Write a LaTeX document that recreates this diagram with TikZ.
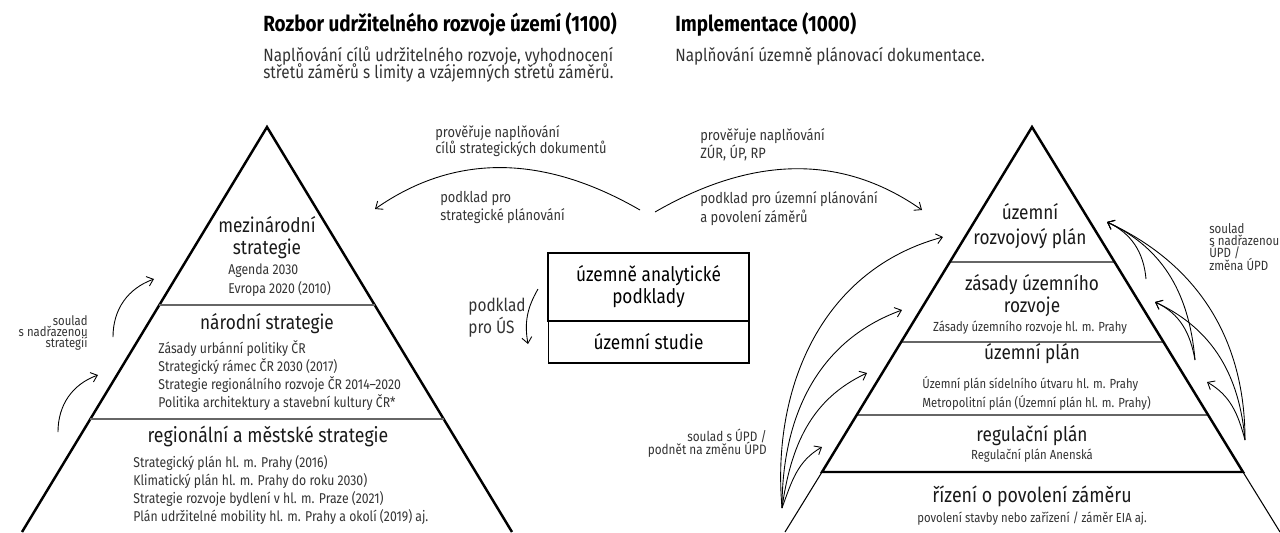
\documentclass[tikz,border=0pt]{standalone}
\usepackage{fontspec}
\setmainfont{Fira Sans}[FakeStretch=0.86]
\usepackage{tikz}
\usetikzlibrary{arrows.meta}
\usetikzlibrary{positioning}
\usetikzlibrary{calc}
\newcommand{\tightlines}{\lineskiplimit -10pt\relax}

\begin{document}
\begin{tikzpicture}[
    x=0.02cm, y=-0.02cm,
    title/.style={anchor=mid west, inner sep=0, font=\fontsize{12.5}{12}\selectfont\bfseries},
    desc/.style={anchor=north west, inner sep=0, align=left, text=black!80,
        font=\fontsize{10.1}{9.7}\selectfont\tightlines},
    head/.style={anchor=mid, inner sep=0, align=center, text=black!90,
        font=\fontsize{11.4}{12.5}\selectfont\tightlines},
    item/.style={anchor=north west, inner sep=0, align=left, text=black!80,
        font=\fontsize{8.1}{10.2}\selectfont},
    sub/.style={anchor=mid, inner sep=0, text=black!80, font=\fontsize{7.5}{9}\selectfont},
    lbl/.style={anchor=north west, inner sep=0, align=left, text=black!80,
        font=\fontsize{8.5}{9.1}\selectfont\tightlines},
    pyr/.style={line width=1.4pt, line join=miter},
    tier/.style={line width=0.6pt, draw=black!60},
    link/.style={-{Straight Barb[length=1.2mm,width=2mm]}, line width=0.5pt},
    box/.style={draw, minimum width=4.02cm, inner sep=0, align=center,
        font=\fontsize{11.4}{12.5}\selectfont}
]
\useasboundingbox (0,0) rectangle (1280,532);

% headings on top
\node[title] (t-rozbor) at (263,26.5) {Rozbor udržitelného rozvoje území (1100)};
\node[desc] (d-rozbor) at (263,46.5) {Naplňování cílů udržitelného rozvoje, vyhodnocení\\
    střetů záměrů s limity a vzájemných střetů záměrů.};
\node[title] (t-impl) at (675,26.5) {Implementace (1000)};
\node[desc] (d-impl) at (675,46.5) {Naplňování územně plánovací dokumentace.};

% strategy pyramid
\coordinate (l-apex) at (267,127);
\draw[pyr] (22,532) -- (l-apex) -- (512,532);
\draw[tier] (159,305) -- (375,305);
\draw[tier] (90,419) -- (444,419);

\node[head] (mez) at (267,228) {mezinárodní};
\node[head] (mez-b) at (267,250) {strategie};
\node[item, font=\fontsize{8.1}{10.8}\selectfont] (mez-list) at (228,263) {Agenda 2030\\Evropa 2020 (2010)};
\node[head] (nar) at (267,325) {národní strategie};
\node[item] (nar-list) at (158,340) {Zásady urbánní politiky ČR\\
    Strategický rámec ČR 2030 (2017)\\
    Strategie regionálního rozvoje ČR 2014–2020\\
    Politika architektury a stavební kultury ČR*};
\node[head, font=\fontsize{11.7}{12.5}\selectfont] (reg) at (268,438) {regionální a městské strategie};
\node[item] (reg-list) at (133,455) {Strategický plán hl. m. Prahy (2016)\\
    Klimatický plán hl. m. Prahy do roku 2030)\\
    Strategie rozvoje bydlení v hl. m. Praze (2021)\\
    Plán udržitelné mobility hl. m. Prahy a okolí (2019) aj.};

\coordinate (s1) at (113,337);
\coordinate (s1-end) at (154,279);
\coordinate (s2) at (58,432);
\coordinate (s2-end) at (98,375);
\draw[link] (s1) to[out=90,in=200] (s1-end);
\draw[link] (s2) to[out=90,in=200] (s2-end);
\node[lbl, anchor=north east, align=right, font=\fontsize{7.5}{6.4}\selectfont\tightlines]
    (soulad-str) at (88,315) {soulad\\s nadřazenou\\strategií};

% planning pyramid
\coordinate (r-apex) at (1032,127);
\coordinate (r-left) at (822,472);
\coordinate (r-right) at (1243,472);
\draw[tier] (950,262) -- (1114,262);
\draw[tier] (901,342) -- (1163,342);
\draw[tier] (857,415) -- (1207,415);
\draw[pyr] (r-left) -- (r-apex) -- (r-right) -- cycle;
\draw[line width=0.6pt] (r-left) -- (785,532);
\draw[line width=0.6pt] (r-right) -- (1280,532);

\node[head] (urp) at (1030,215) {územní};
\node[head] (urp-b) at (1030,240) {rozvojový plán};
\node[head] (zur) at (1032,286) {zásady územního};
\node[head] (zur-b) at (1032,308) {rozvoje};
\node[sub] (zur-list) at (1030,327) {Zásady územního rozvoje hl. m. Prahy};
\node[head] (up) at (1032,355) {územní plán};
\node[item, font=\fontsize{7.5}{10.8}\selectfont] (up-list) at (922,376.5) {Územní plán sídelního útvaru hl. m. Prahy\\
    Metropolitní plán (Územní plán hl. m. Prahy)};
\node[head] (rp) at (1032,437) {regulační plán};
\node[sub] (rp-list) at (1032,455) {Regulační plán Anenská};
\node[head, font=\fontsize{11.8}{12.5}\selectfont] (riz) at (1032,498) {řízení o povolení záměru};
\node[sub] (riz-list) at (1032,518) {povolení stavby nebo zařízení / záměr EIA aj.};

% links from the permit level upwards
\coordinate (q) at (782,508);
\coordinate (b1) at (943,237);
\coordinate (b2) at (902,310);
\coordinate (b3) at (867,373);
\coordinate (b4) at (822,447);
\draw[link] (q) to[out=95,in=195] (b1);
\draw[link] (q) to[out=90,in=200] (b2);
\draw[link] (q) to[out=82,in=205] (b3);
\draw[link] (q) to[out=70,in=210] (b4);
\node[lbl, anchor=north east, align=right, font=\fontsize{7.8}{7.4}\selectfont\tightlines]
    (soulad-upd) at (767,429) {soulad s ÚPD /\\podnět na změnu ÚPD};

% links between plan levels
\coordinate (p1) at (1146,279);
\coordinate (p2) at (1195,360);
\coordinate (p3) at (1245,440);
\coordinate (a1) at (1107,222);
\coordinate (a2) at (1155,302);
\coordinate (a3) at (1207,382);
\draw[link] (p1) to[out=95,in=-25] (a1);
\draw[link] (p2) to[out=95,in=-25] (a1);
\draw[link] (p2) to[out=100,in=-25] (a2);
\draw[link] (p3) to[out=90,in=-25] (a1);
\draw[link] (p3) to[out=95,in=-25] (a2);
\draw[link] (p3) to[out=105,in=-30] (a3);
\node[lbl, font=\fontsize{7.6}{7}\selectfont\tightlines]
    (soulad-nad) at (1209,223) {soulad\\s nadřazenou\\ÚPD /\\změna ÚPD};

% analytical base in the middle
\node[box, line width=0.6pt, minimum height=0.84cm] (us) at (648.5,342) {územní studie};
\node[box, line width=1.2pt, minimum height=1.36cm] (uap) at (648.5,287) {územně analytické\\podklady};
\coordinate (ua) at (538,289);
\coordinate (ub) at (528,344);
\draw[link] (ua) to[out=240,in=100] (ub);
\node[lbl, font=\fontsize{10.2}{10.8}\selectfont] (podklad-us) at (468,298) {podklad\\pro ÚS};

% arcs to both pyramids
\coordinate (ta) at (640,210);
\coordinate (tb) at (375,209);
\coordinate (tc) at (655,212);
\coordinate (td) at (922,210);
\draw[link] (ta) to[out=150,in=35] (tb);
\draw[link] (tc) to[out=30,in=145] (td);
\node[lbl] (prov-l) at (435,125) {prověřuje naplňování\\cílů strategických dokumentů};
\node[lbl, font=\fontsize{8.5}{10.2}\selectfont] (podklad-l) at (440,191) {podklad pro\\strategické plánování};
\node[lbl, font=\fontsize{8.5}{8.5}\selectfont] (prov-r) at (700,128) {prověřuje naplňování\\ZÚR, ÚP, RP};
\node[lbl, font=\fontsize{8.5}{10.8}\selectfont] (podklad-r) at (700,191) {podklad pro územní plánování\\a povolení záměrů};
\end{tikzpicture}
\end{document}
